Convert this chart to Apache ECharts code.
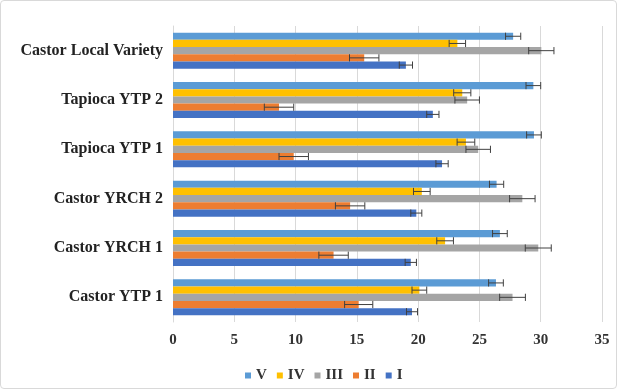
<!DOCTYPE html>
<html><head><meta charset="utf-8">
<script src="https://cdn.jsdelivr.net/npm/echarts@6/dist/echarts.min.js"></script>
<style>
html,body{margin:0;padding:0;background:#fff;}
#c{width:617px;height:389px;box-sizing:border-box;border:1px solid #d9d9d9;border-radius:4px;}
</style></head>
<body><div id="c"></div>
<script>
const categories = ['Castor Local Variety','Tapioca YTP 2','Tapioca YTP 1','Castor YRCH 2','Castor YRCH 1','Castor YTP 1'];
const seriesNames = ['V','IV','III','II','I'];
const valV   = [27.75, 29.4, 29.45, 26.4, 26.67, 26.35];
const valIV  = [23.2, 23.6, 23.9, 20.3, 22.2, 20.1];
const valIII = [30.05, 24.0, 24.9, 28.5, 29.8, 27.7];
const valII  = [15.6, 8.65, 9.85, 14.45, 13.1, 15.15];
const valI   = [19.0, 21.2, 21.95, 19.85, 19.4, 19.5];
const errV   = [0.62, 0.6, 0.6, 0.58, 0.6, 0.6];
const errIV  = [0.67, 0.7, 0.72, 0.68, 0.68, 0.6];
const errIII = [1.03, 1.0, 1.0, 1.04, 1.06, 1.05];
const errII  = [1.2, 1.2, 1.2, 1.2, 1.2, 1.15];
const errI   = [0.54, 0.5, 0.5, 0.45, 0.46, 0.45];
const xTicks = {min:0, max:35, interval:5};

const values = [valV, valIV, valIII, valII, valI];
const errs = [errV, errIV, errIII, errII, errI];
const colors = ['#5B9BD5','#FFC000','#A5A5A5','#ED7D31','#4472C4'];
const gapRatio = 0.27;
const nS = seriesNames.length;
const font = '"Liberation Serif","Times New Roman",serif';

const series = [];
seriesNames.forEach((n,i)=>{
  series.push({name:n,type:'bar',data:values[i],itemStyle:{color:colors[i]},
    barGap:'0%',barCategoryGap:(gapRatio*100)+'%'});
});
seriesNames.forEach((n,i)=>{
  series.push({type:'custom',name:n+'_err',silent:true,z:5,
    data: values[i].map((v,k)=>[k, v, errs[i][k]]),
    encode:{x:1,y:0},
    renderItem:function(params,api){
      const k=api.value(0), v=api.value(1), e=api.value(2);
      const band=api.size([0,1])[1];
      const total=band*(1-gapRatio);
      const bw=total/nS;
      const c=api.coord([v,k]);
      const y=c[1]-total/2+bw*(i+0.5);
      const x1=api.coord([v-e,k])[0], x2=api.coord([v+e,k])[0];
      const h=bw*0.5;
      const st={stroke:'#404040',lineWidth:1};
      return {type:'group',children:[
        {type:'line',shape:{x1:x1,y1:y,x2:x2,y2:y},style:st},
        {type:'line',shape:{x1:x1,y1:y-h,x2:x1,y2:y+h},style:st},
        {type:'line',shape:{x1:x2,y1:y-h,x2:x2,y2:y+h},style:st}
      ]};
    }
  });
});

const chart = echarts.init(document.getElementById('c'));
chart.setOption({
  animation:false,
  grid:{left:172,right:14,top:25,bottom:66,containLabel:false},
  legend:{data:seriesNames,top:362,left:239,itemWidth:6,itemHeight:6,itemGap:10,icon:'rect',
    textStyle:{fontFamily:font,fontWeight:'bold',fontSize:15,color:'#333'}},
  xAxis:{type:'value',min:xTicks.min,max:xTicks.max,interval:xTicks.interval,
    axisLine:{show:false},axisTick:{show:false},
    splitLine:{lineStyle:{color:'#d9d9d9'}},
    axisLabel:{fontFamily:font,fontWeight:'bold',fontSize:15,color:'#333',margin:11}},
  yAxis:{type:'category',data:categories,inverse:true,
    axisLine:{show:true,lineStyle:{color:'#d9d9d9'}},axisTick:{show:false},
    axisLabel:{fontFamily:font,fontWeight:'bold',fontSize:16,color:'#222',margin:10}},
  series:series
});
</script></body></html>
